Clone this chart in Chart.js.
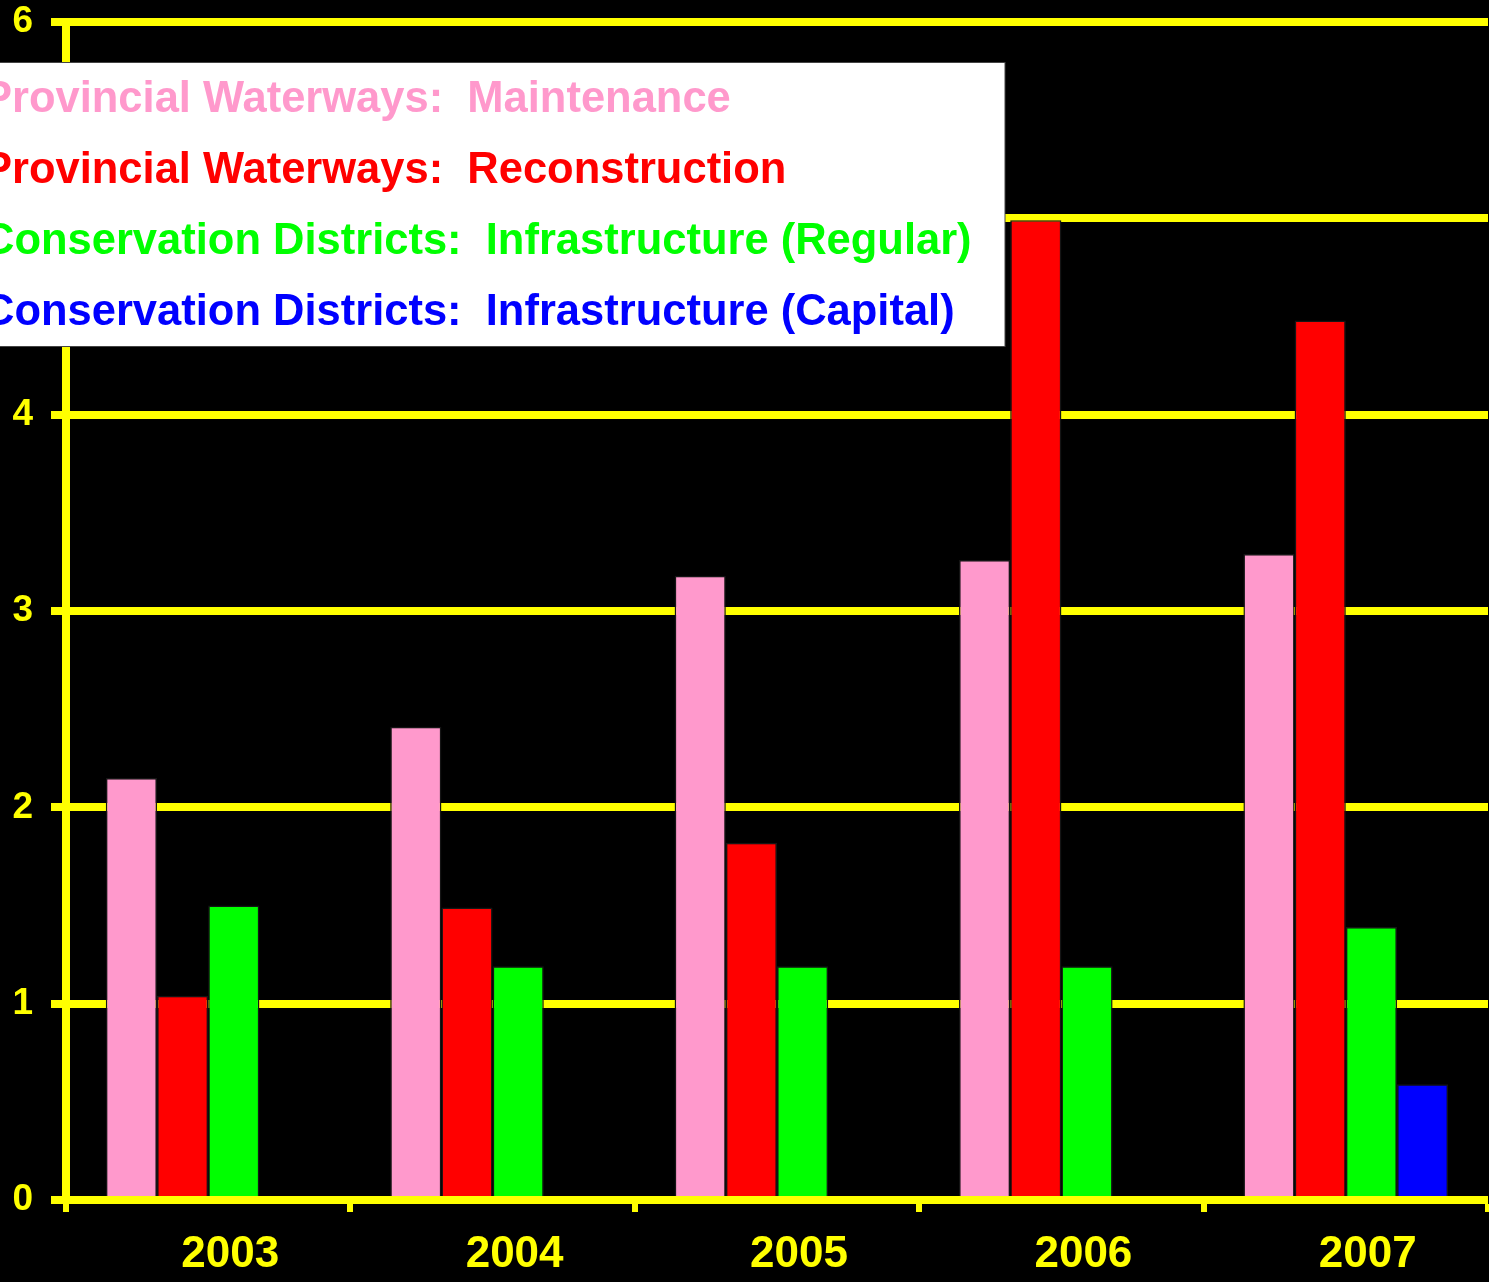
<!DOCTYPE html>
<html>
<head>
<meta charset="utf-8">
<script src="https://cdn.jsdelivr.net/npm/chart.js@4.4.1/dist/chart.umd.min.js"></script>
<style>
  html, body { margin: 0; padding: 0; background: #000; }
  #wrap { width: 1489px; height: 1282px; }
</style>
</head>
<body>
<div id="wrap"><canvas id="chart"></canvas></div>
<script>
const years = ["2003", "2004", "2005", "2006", "2007"];
const maintenance = [2.15, 2.41, 3.18, 3.26, 3.29];
const reconstruction = [1.04, 1.49, 1.82, 4.99, 4.48];
const infraRegular = [1.50, 1.19, 1.19, 1.19, 1.39];
const infraCapital = [null, null, null, null, 0.59];
const seriesLabels = [
    ["Provincial Waterways:  ", "Maintenance"],
    ["Provincial Waterways:  ", "Reconstruction"],
    ["Conservation Districts:  ", "Infrastructure (Regular)"],
    ["Conservation Districts:  ", "Infrastructure (Capital)"]
];
const seriesColors = ["#FF99CC", "#FF0000", "#00FF00", "#0000FF"];

const FONT = "Arial, 'Liberation Sans', sans-serif";
const YELLOW = "#FFFF00";

// white legend box drawn over the plot, text cut off at the left edge
const boxLegend = {
    id: "boxLegend",
    afterDraw(chart) {
        const ctx = chart.ctx;
        ctx.save();
        ctx.fillStyle = "#FFFFFF";
        ctx.fillRect(0, 62, 1005, 285);
        ctx.strokeStyle = "#444";
        ctx.lineWidth = 1;
        ctx.strokeRect(-1, 62.5, 1006, 284);
        ctx.font = "bold 43.5px " + FONT;
        ctx.textBaseline = "alphabetic";
        ctx.textAlign = "left";
        chart.data.datasets.forEach((ds, i) => {
            ctx.fillStyle = ds.backgroundColor;
            ctx.fillText(ds.label, -17, 112 + i * 71);
        });
        ctx.restore();
    }
};

const ctx = document.getElementById("chart").getContext("2d");
new Chart(ctx, {
    type: "bar",
    data: {
        labels: years,
        datasets: [maintenance, reconstruction, infraRegular, infraCapital].map((vals, i) => ({
            label: seriesLabels[i].join(""),
            data: vals,
            backgroundColor: seriesColors[i],
            borderColor: "#151515",
            borderWidth: 1.5,
            categoryPercentage: 0.72,
            barPercentage: 1
        }))
    },
    options: {
        responsive: true,
        maintainAspectRatio: false,
        animation: false,
        layout: { padding: { top: 22, right: 1, left: 0, bottom: 0 } },
        plugins: {
            legend: { display: false },
            tooltip: { enabled: false }
        },
        scales: {
            x: {
                z: 1,
                grid: {
                    offset: true,
                    drawOnChartArea: true,
                    color: c => (c.index === years.length ? YELLOW : "rgba(0,0,0,0)"),
                    lineWidth: c => (c.index === years.length ? 3 : 0),
                    tickColor: YELLOW,
                    tickWidth: 6,
                    tickLength: 12
                },
                border: { display: true, color: YELLOW, width: 8 },
                ticks: {
                    color: YELLOW,
                    font: { family: FONT, size: 44, weight: "bold" },
                    padding: 16,
                    labelOffset: 22,
                    maxRotation: 0
                },
                afterFit(scale) {
                    scale.height = 82;
                    scale.paddingLeft = 0;
                    scale.paddingRight = 0;
                }
            },
            y: {
                min: 0,
                max: 6,
                grid: {
                    color: YELLOW,
                    lineWidth: 8,
                    tickColor: YELLOW,
                    tickWidth: 8,
                    tickLength: 15
                },
                border: { display: true, color: YELLOW, width: 8 },
                ticks: {
                    stepSize: 1,
                    color: YELLOW,
                    font: { family: FONT, size: 37, weight: "bold" },
                    padding: 18
                },
                afterFit(scale) {
                    scale.width = 66;
                    scale.paddingTop = 0;
                    scale.paddingBottom = 0;
                }
            }
        }
    },
    plugins: [boxLegend]
});
</script>
</body>
</html>
